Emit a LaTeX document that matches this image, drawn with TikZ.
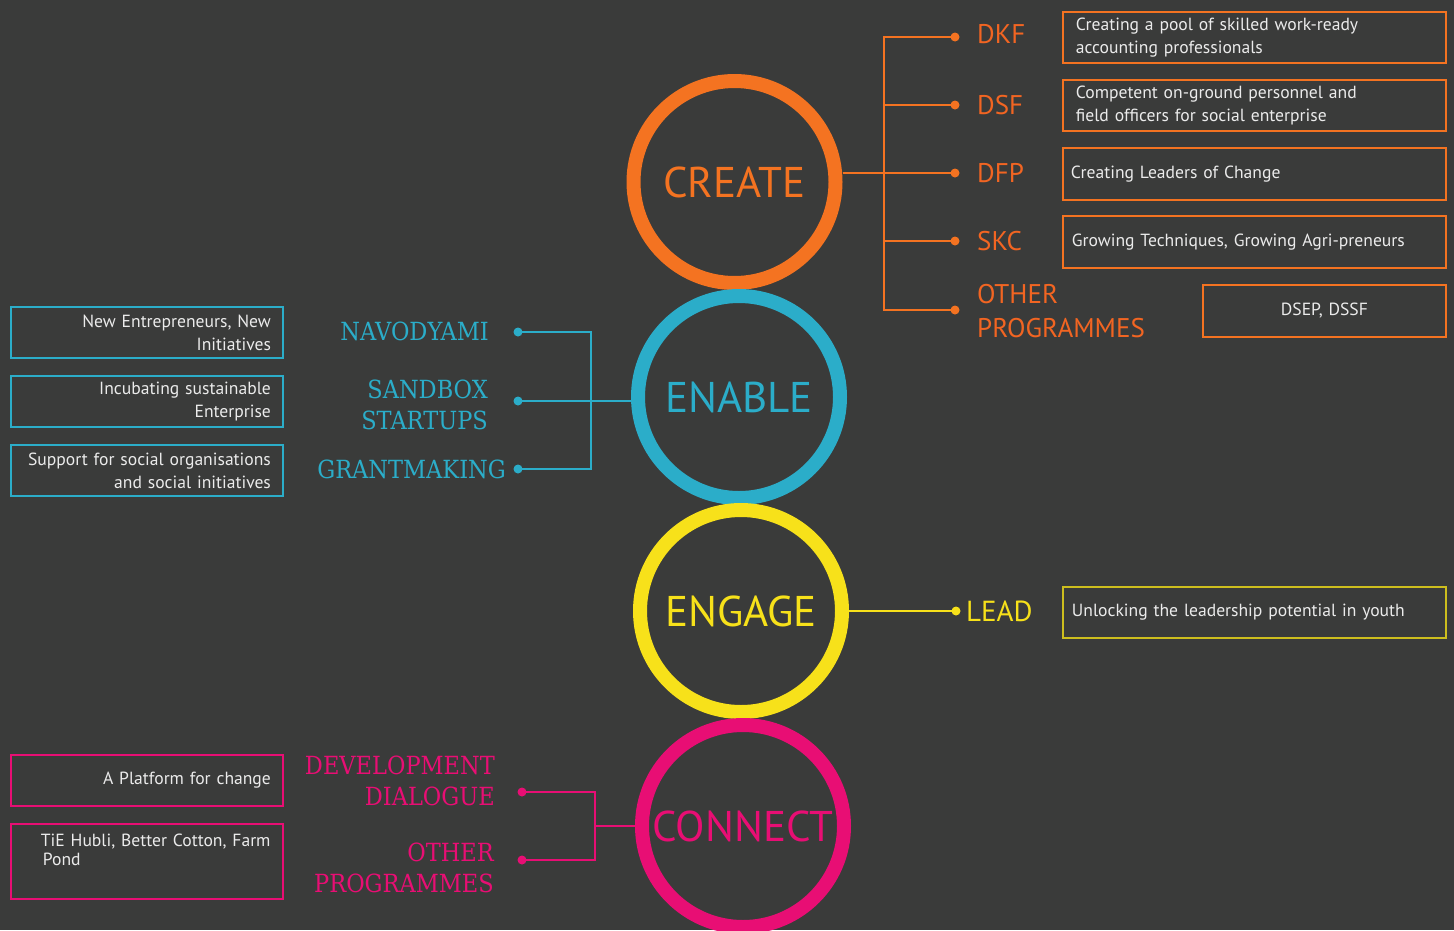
\documentclass[tikz,border=0pt]{standalone}
\usepackage{fontspec}
\setmainfont{PT Sans}
\newfontfamily\slabfont[FakeStretch=0.9]{DejaVu Serif}
\definecolor{bg}{RGB}{58,59,58}
\definecolor{corange}{RGB}{244,115,33}
\definecolor{clabel}{RGB}{242,101,34}
\definecolor{cblue}{RGB}{43,173,201}
\definecolor{cyellow}{RGB}{247,225,26}
\definecolor{cyelbox}{RGB}{205,190,30}
\definecolor{cpink}{RGB}{232,14,116}
\definecolor{txt}{RGB}{235,235,235}
\hyphenpenalty=10000\relax
\begin{document}
\begin{tikzpicture}[x=1pt,y=-1pt,
  ring/.style={circle, draw=#1, line width=14pt, minimum size=202pt, inner sep=0pt, text=#1, font=\fontsize{43}{43}\selectfont},
  conn/.style={draw=#1, line width=2.6pt},
  dot/.style={circle, fill=#1, inner sep=0pt, minimum size=9pt},
  lbl/.style={text=#1, inner sep=0pt, font=\fontsize{27}{34}\selectfont},
  slab/.style={text=#1, inner sep=0pt, align=right, font=\slabfont\fontsize{25}{31}\selectfont},
  tbox/.style={draw=#1, line width=1.8pt, anchor=north west, text=txt, inner ysep=0pt, font=\fontsize{17.6}{23}\selectfont},
]
\useasboundingbox (0,0) rectangle (1454,930);
\clip (0,0) rectangle (1454,930);
\fill[bg] (0,0) rectangle (1454,930);

% ---------- rings ----------
\node[ring=corange] (create) at (734.5,182) {CREATE};
\node[ring=cblue] (enable) at (739,397) {ENABLE};
\node[ring=cyellow] (engage) at (741,611) {ENGAGE};
\node[ring=cpink] (connect) at (743,826) {CONNECT};

% ---------- CREATE branch ----------
\node[dot=corange] (dkfdot) at (955,37) {};
\node[dot=corange] (dsfdot) at (955,105) {};
\node[dot=corange] (dfpdot) at (955,173) {};
\node[dot=corange] (skcdot) at (955,241) {};
\node[dot=corange] (othdot) at (955,310) {};
\coordinate (ctr) at (884,0);
\draw[conn=corange] (create.east |- dfpdot) -- (dfpdot.center);
\draw[conn=corange] (dkfdot.center) -| (ctr |- othdot) -- (othdot.center);
\draw[conn=corange] (dsfdot.center) -- (dsfdot -| ctr);
\draw[conn=corange] (skcdot.center) -- (skcdot -| ctr);

\node[lbl=clabel, anchor=west] (dkf) at (977,34) {DKF};
\node[lbl=clabel, anchor=west] (dsf) at (977,105) {DSF};
\node[lbl=clabel, anchor=west] (dfp) at (977,173) {DFP};
\node[lbl=clabel, anchor=west] (skc) at (977,241) {SKC};
\node[lbl=clabel, anchor=west, align=left] (oth) at (977,311) {OTHER\\PROGRAMMES};

\node[tbox=corange, minimum width=383pt, minimum height=51pt, inner xsep=13pt, text width=357pt, align=left] (b1) at (1062,11) {Creating a pool of skilled work-ready\\accounting professionals};
\node[tbox=corange, minimum width=383pt, minimum height=51pt, inner xsep=13pt, text width=357pt, align=left] (b2) at (1062,79) {Competent on-ground personnel and\\field officers for social enterprise};
\node[tbox=corange, minimum width=383pt, minimum height=52pt, inner xsep=8pt, text width=367pt, align=left] (b3) at (1062,147) {Creating Leaders of Change};
\node[tbox=corange, minimum width=383pt, minimum height=52pt, inner xsep=9pt, text width=365pt, align=left] (b4) at (1062,215) {Growing Techniques, Growing Agri-preneurs};
\node[tbox=corange, minimum width=243pt, minimum height=52pt, inner xsep=8pt, text width=227pt, align=center] (b5) at (1202,284) {DSEP, DSSF};

% ---------- ENABLE branch ----------
\node[dot=cblue] (navdot) at (518,332) {};
\node[dot=cblue] (sbdot) at (518,401) {};
\node[dot=cblue] (grdot) at (518,469) {};
\coordinate (etr) at (591,0);
\draw[conn=cblue] (enable.west |- sbdot) -- (sbdot.center);
\draw[conn=cblue] (navdot.center) -| (etr |- grdot) -- (grdot.center);

\node[slab=cblue, anchor=east] (nav) at (489,331) {NAVODYAMI};
\node[slab=cblue, anchor=east] (sb) at (488,405) {SANDBOX\\STARTUPS};
\node[slab=cblue, anchor=east] (gr) at (506,469) {GRANTMAKING};

\node[tbox=cblue, minimum width=272pt, minimum height=51pt, inner xsep=12pt, text width=248pt, align=right] (e1) at (10,306) {New Entrepreneurs, New\\Initiatives};
\node[tbox=cblue, minimum width=272pt, minimum height=51pt, inner xsep=12pt, text width=248pt, align=right] (e2) at (10,375) {Incubating sustainable\\Enterprise};
\node[tbox=cblue, minimum width=272pt, minimum height=51pt, inner xsep=12pt, text width=248pt, align=right] (e3) at (10,444) {Support for social organisations\\and social initiatives};

% ---------- ENGAGE branch ----------
\node[dot=cyellow] (leaddot) at (956,611) {};
\draw[conn=cyellow] (engage.east) -- (leaddot.center);
\node[lbl=cyellow, anchor=west, font=\fontsize{29}{34}\selectfont] (lead) at (966,611) {LEAD};
\node[tbox=cyelbox, minimum width=383pt, minimum height=51pt, inner xsep=9pt, text width=365pt, align=left] (g1) at (1062,586) {Unlocking the leadership potential in youth};

% ---------- CONNECT branch ----------
\node[dot=cpink] (dddot) at (522,792) {};
\node[dot=cpink] (opdot) at (522,860) {};
\coordinate (ptr) at (595,0);
\draw[conn=cpink] (connect.west) -- (ptr |- connect.west);
\draw[conn=cpink] (dddot.center) -| (ptr |- opdot) -- (opdot.center);

\node[slab=cpink, anchor=east] (dd) at (495,781) {DEVELOPMENT\\DIALOGUE};
\node[slab=cpink, anchor=east] (op) at (494,868) {OTHER\\PROGRAMMES};

\node[tbox=cpink, minimum width=272pt, minimum height=51pt, inner xsep=12pt, text width=248pt, align=right] (c1) at (10,754) {A Platform for change};
\node[tbox=cpink, minimum width=272pt, minimum height=75pt, inner xsep=6pt, text width=260pt, align=left, font=\fontsize{17.6}{19}\selectfont] (c2) at (10,823) {\hspace*{24pt}TiE Hubli, Better Cotton, Farm\\\hspace*{26pt}Pond\\[4pt]\mbox{}};
\end{tikzpicture}
\end{document}
